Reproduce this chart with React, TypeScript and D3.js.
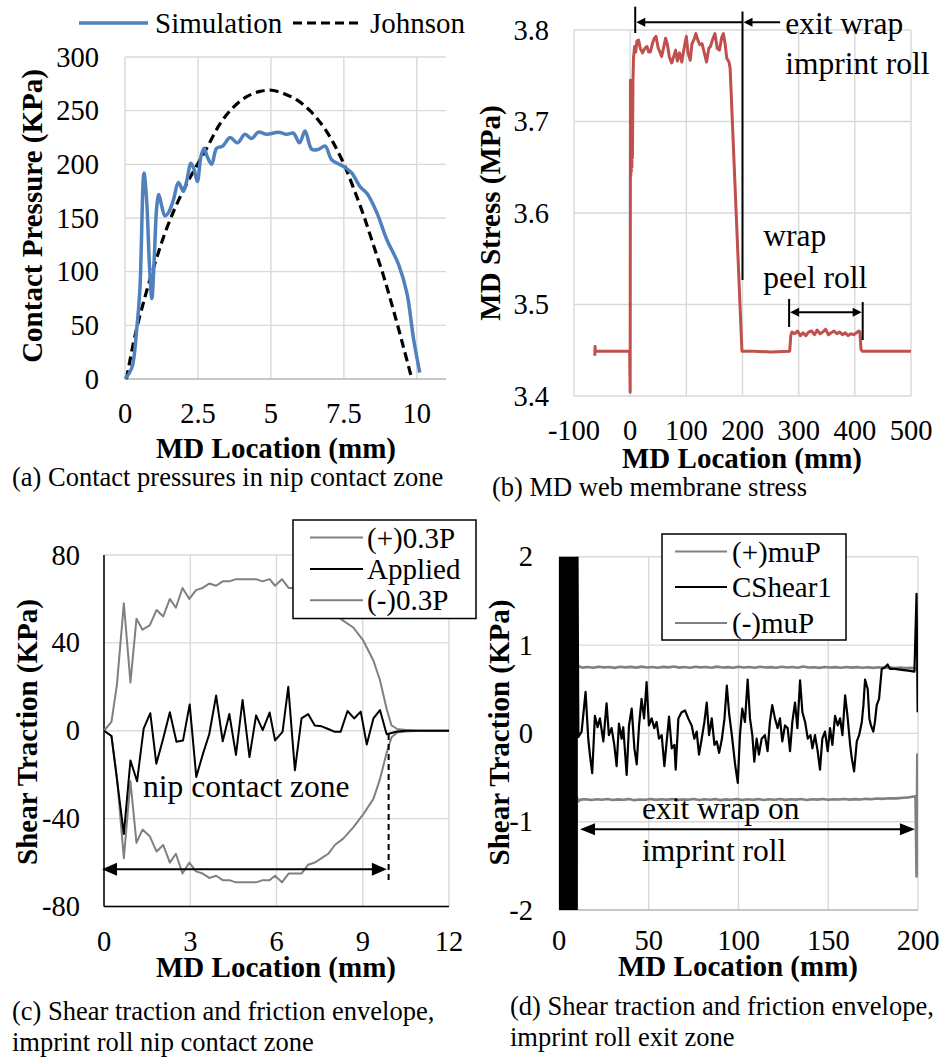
import React from 'react';
import * as d3 from 'd3';

const FONT = '"Liberation Serif","Times New Roman",Times,serif';

// ---------------- (a) Contact pressure ----------------
const aSimX = [0, 0.23, 0.4, 0.51, 0.65, 0.74, 0.84, 0.92, 1.0, 1.09, 1.16, 1.26, 1.37, 1.49, 1.66, 1.83, 2.0, 2.11, 2.26, 2.37, 2.48, 2.6, 2.71, 2.82, 2.97, 3.14, 3.35, 3.6, 3.85, 4.11, 4.34, 4.57, 4.86, 5.26, 5.54, 5.77, 5.98, 6.17, 6.4, 6.63, 6.86, 7.09, 7.49, 7.77, 8.06, 8.29, 8.63, 8.97, 9.37, 9.66, 9.89, 10.1];
const aSimP = [0, 10, 46, 83, 192, 167, 105, 75, 111, 161, 172, 161, 152, 155, 167, 183, 175, 184, 201, 195, 184, 207, 215, 207, 200, 215, 217, 225, 220, 228, 224, 230, 228, 230, 228, 229, 220, 231, 214, 214, 217, 204, 198, 192, 179, 173, 155, 130, 107, 80, 37, 6];
const aJohnX = [0.05, 0.34, 0.69, 1.03, 1.37, 1.71, 2.06, 2.4, 2.8, 3.26, 3.71, 4.17, 4.63, 5.03, 5.43, 5.89, 6.34, 6.8, 7.14, 7.49, 7.83, 8.17, 8.51, 8.86, 9.2, 9.54, 9.83];
const aJohnP = [0, 40, 77, 108, 136, 159, 179, 196, 215, 238, 253, 263, 268, 269, 266, 260, 250, 235, 220, 201, 178, 153, 125, 96, 64, 30, 0];
const aTicksX = [0, 2.5, 5, 7.5, 10];
const aTicksY = [0, 50, 100, 150, 200, 250, 300];

// ---------------- (b) MD stress ----------------
const bStress: [number, number][] = [
  [-63, 3.444], [-62.5, 3.454], [-62, 3.449], [-30, 3.449], [-2, 3.449], [-1, 3.449],
  [0, 3.404], [0.5, 3.745], [1, 3.64], [1.5, 3.74], [2, 3.645], [2.5, 3.735], [3, 3.65], [3.5, 3.74], [4, 3.66], [5, 3.745], [6, 3.77],
  [8, 3.782], [10, 3.776], [12, 3.788], [15, 3.789], [18, 3.78], [22, 3.775], [26, 3.78], [30, 3.782], [33, 3.776], [36, 3.776],
  [40, 3.786], [43, 3.791], [46, 3.793], [50, 3.78], [53, 3.776], [56, 3.771], [60, 3.782], [63, 3.791], [66, 3.785], [70, 3.77],
  [74, 3.764], [78, 3.772], [81, 3.778], [84, 3.766], [88, 3.775], [92, 3.765], [96, 3.78], [100, 3.793], [103, 3.775], [107, 3.767],
  [110, 3.785], [114, 3.79], [117, 3.796], [121, 3.788], [124, 3.784], [128, 3.785], [132, 3.775], [136, 3.765], [140, 3.78],
  [143, 3.782], [147, 3.79], [151, 3.796], [155, 3.78], [159, 3.778], [163, 3.792], [166, 3.796], [169, 3.785], [172, 3.769],
  [176, 3.765], [178, 3.758], [199, 3.449], [220, 3.449], [250, 3.448], [284, 3.449],
  [286, 3.466], [288, 3.47], [293, 3.468], [298, 3.471], [303, 3.466], [308, 3.469], [313, 3.466], [318, 3.47], [323, 3.471],
  [328, 3.467], [333, 3.472], [338, 3.468], [343, 3.47], [348, 3.473], [353, 3.467], [358, 3.469], [363, 3.471], [368, 3.468],
  [373, 3.47], [378, 3.467], [383, 3.469], [388, 3.466], [393, 3.468], [398, 3.467], [403, 3.469], [407, 3.471], [409, 3.47],
  [411, 3.451], [413, 3.449], [450, 3.449], [500, 3.449],
];
const bTicksX = [-100, 0, 100, 200, 300, 400, 500];
const bTicksY = [3.4, 3.5, 3.6, 3.7, 3.8];

// ---------------- (c) Shear traction, nip zone ----------------
const cEnvX = [0, 0.26, 0.45, 0.69, 0.92, 1.13, 1.34, 1.59, 1.83, 2.06, 2.29, 2.5, 2.73, 2.97, 3.2, 3.43, 3.66, 3.9, 4.13, 4.36, 4.59, 4.82, 5.06, 5.29, 5.52, 5.76, 5.95, 6.19, 6.42, 6.65, 6.87, 7.1, 7.33, 7.57, 7.8, 8.03, 8.33, 8.67, 9.02, 9.37, 9.6, 9.83, 10, 10.2, 10.5, 11, 12];
const cPlus = [0, 4, 21, 58, 22, 51, 46, 48, 55, 52, 60, 56, 65, 60, 64, 65, 67, 66, 68, 68, 69, 69, 69, 69, 68, 69, 66, 69, 65, 65, 65, 61, 60, 58, 56, 53, 50, 47, 41, 32, 23, 10, 2.4, 0.8, 0.3, 0, 0];
const cMinus = [0, -2.4, -21, -58, -23, -51, -45, -48, -55, -52, -60, -56, -65, -60, -64, -65, -67, -66, -68, -68, -69, -69, -69, -69, -68, -68, -66, -69, -65, -65, -65, -61, -60, -58, -56, -52, -49, -44, -38, -31, -22, -10, -3, -0.8, -0.3, 0, 0];
const cAppX = [0, 0.26, 0.69, 0.92, 1.15, 1.38, 1.61, 1.82, 2.05, 2.29, 2.52, 2.75, 2.98, 3.21, 3.43, 3.66, 3.9, 4.13, 4.36, 4.59, 4.82, 5.06, 5.29, 5.52, 5.76, 5.95, 6.21, 6.41, 6.64, 6.87, 7.1, 7.33, 7.57, 7.8, 8.03, 8.23, 8.47, 8.7, 8.93, 9.14, 9.37, 9.6, 9.83, 10, 10.2, 10.5, 11, 12];
const cApplied = [0, -2.4, -47, -13.5, -23, 1, 8, -15, -4, 8.4, -5, -4.4, 12, -21, -11, -1.6, 16, -4.8, 7.6, -11, 14, -12, 7, 0.3, 8.3, -4.4, -0.5, 20, -18, 5.6, 7.6, 2.4, 2, 0.8, -0.5, -0.5, 9, 5.6, 8.7, -6.3, 5.6, 9.4, -1.6, -1, -0.3, 0, 0, 0];
const cTicksX = [0, 3, 6, 9, 12];
const cTicksY = [-80, -40, 0, 40, 80];

// ---------------- (d) Shear traction, exit zone ----------------
const dNipShear: [number, number][] = [
  [0, 0], [0.25, -5], [0.5, 30], [0.75, -47], [1, 18], [1.25, -23], [1.5, 12], [1.75, -15], [2, 9], [2.25, -6], [2.5, 12],
  [2.75, -21], [3, 14], [3.25, -11], [3.5, 16], [3.75, -5], [4, 8], [4.25, -11], [4.5, 14], [4.75, -12], [5, 7], [5.25, -4],
  [5.5, 8], [5.75, -5], [6, 20], [6.25, -18], [6.5, 6], [6.75, -8], [7, 7], [7.25, -3], [7.5, 5], [7.75, -4], [8, 9], [8.25, -6],
  [8.5, 9], [8.75, -6], [9, 9], [9.25, -3], [9.5, 5], [9.75, -4], [10, 3],
];
const dShear: [number, number][] = [
  [10.8, -0.04], [12.6, 0.02], [14.8, 0.47], [16.3, -0.06], [17.2, -0.24], [18.5, -0.45], [20, 0.2], [21.5, 0.07], [22.8, 0.17],
  [24.7, -0.09], [26.5, 0.34], [27.8, -0.02], [29.3, 0.06], [30.8, -0.13], [32.1, -0.37], [33.4, 0.11], [34.9, -0.06], [35.8, 0.07],
  [37.7, -0.47], [39, 0.09], [40.5, 0.28], [42, -0.17], [43.3, -0.35], [44.6, 0.09], [46, 0.39], [47.4, 0.17], [48.8, 0.58],
  [50.1, 0.09], [51.6, 0.17], [53.1, 0.06], [54.4, 0.13], [55.7, -0.06], [57.2, -0.02], [58.7, -0.37], [60, -0.09], [61.3, 0.19],
  [62.8, -0.17], [64.3, -0.13], [65, -0.41], [66.5, 0.17], [68.3, 0.24], [70.2, 0.26], [72, 0.17], [73.9, 0.09], [75.4, -0.06],
  [76.7, 0.02], [78, -0.24], [79.5, -0.06], [81, 0.13], [82.3, 0.35], [83.6, -0.02], [85.1, 0.17], [86.6, -0.13], [87.9, -0.09],
  [89.2, -0.22], [90.7, -0.07], [92.2, 0.17], [93.5, 0.54], [94.8, 0.22], [96.3, -0.02], [98.1, -0.35], [99.6, -0.56],
  [100.8, -0.02], [102.1, 0.28], [103.6, 0.13], [105.1, 0.61], [106.4, 0.17], [107.7, -0.02], [108.8, -0.32], [110.1, -0.06],
  [111.4, -0.24], [112.9, -0.06], [114.7, -0.02], [116.2, -0.2], [117.5, 0.13], [118.8, 0.32], [120.3, 0.17], [121.8, 0.06],
  [123.1, 0.17], [124.4, -0.09], [125.9, 0.09], [127.4, 0.06], [128.7, -0.2], [130, 0.13], [131.5, 0.35], [132.8, 0.06],
  [134.3, 0.6], [135.6, 0.24], [137.1, 0.13], [138.6, -0.06], [140.1, -0.02], [141.2, -0.17], [142.6, -0.02], [144.1, -0.2],
  [145.4, -0.41], [146.7, -0.06], [148.2, 0.02], [149.7, -0.2], [151, 0.06], [152.3, -0.13], [153.8, 0.2], [155.3, 0.09],
  [156.6, 0.17], [157.9, -0.02], [159.4, 0.43], [160.7, 0.2], [162.2, -0.13], [163.1, -0.28], [164.4, -0.43], [165.9, -0.09],
  [167.2, -0.02], [168.7, 0.13], [169.6, 0.32], [170.5, 0.61], [172, 0.5], [172.9, 0.17], [173.8, 0.09], [175.1, 0.02],
  [176, 0.13], [177, 0.32], [178.3, 0.39], [179.8, 0.73], [181.6, 0.75], [183.1, 0.78], [184.4, 0.73], [187.2, 0.73],
  [190.9, 0.72], [194.6, 0.71], [198, 0.7], [199.2, 1.58], [199.8, 0.24],
];
const dPlusMu: [number, number][] = [
  [9.6, 30], [10.1, 0.78], [11, 0.76], [13, 0.745], [16, 0.752], [19, 0.744], [22, 0.755], [25, 0.748], [28, 0.752], [31, 0.742],
  [34, 0.755], [37, 0.748], [40, 0.753], [43, 0.745], [46, 0.756], [49, 0.747], [52, 0.752], [55, 0.744], [58, 0.753], [61, 0.748],
  [64, 0.757], [67, 0.745], [70, 0.752], [73, 0.743], [76, 0.754], [79, 0.748], [82, 0.752], [85, 0.744], [88, 0.756], [91, 0.747],
  [94, 0.751], [97, 0.743], [100, 0.754], [103, 0.747], [106, 0.752], [109, 0.744], [112, 0.755], [115, 0.747], [118, 0.751],
  [121, 0.743], [124, 0.754], [127, 0.746], [130, 0.752], [133, 0.744], [136, 0.757], [139, 0.747], [142, 0.75], [145, 0.742],
  [148, 0.752], [151, 0.746], [154, 0.751], [157, 0.743], [160, 0.752], [163, 0.745], [166, 0.751], [169, 0.744], [172, 0.75],
  [175, 0.742], [178, 0.749], [181, 0.744], [184, 0.748], [187, 0.741], [190, 0.746], [193, 0.739], [196, 0.742], [199, 0.736],
  [200, 0.73],
];
const dMinusMu: [number, number][] = [
  [9.2, -30], [9.9, -0.72], [10.6, -0.77], [12, -0.75], [15, -0.745], [18, -0.754], [21, -0.746], [24, -0.752], [27, -0.743],
  [30, -0.755], [33, -0.747], [36, -0.752], [39, -0.744], [42, -0.756], [45, -0.748], [48, -0.751], [51, -0.743], [54, -0.753],
  [57, -0.746], [60, -0.752], [63, -0.744], [66, -0.755], [69, -0.747], [72, -0.751], [75, -0.742], [78, -0.754], [81, -0.746],
  [84, -0.752], [87, -0.744], [90, -0.756], [93, -0.747], [96, -0.751], [99, -0.743], [102, -0.754], [105, -0.746], [108, -0.752],
  [111, -0.744], [114, -0.755], [117, -0.746], [120, -0.751], [123, -0.743], [126, -0.753], [129, -0.746], [132, -0.75],
  [135, -0.743], [138, -0.754], [141, -0.746], [144, -0.75], [147, -0.742], [150, -0.752], [153, -0.745], [156, -0.749],
  [159, -0.742], [162, -0.75], [165, -0.744], [168, -0.748], [171, -0.741], [174, -0.746], [177, -0.738], [180, -0.742],
  [184, -0.735], [188, -0.736], [192, -0.728], [195, -0.724], [198.6, -0.712], [199.2, -1.62], [199.6, -0.24], [200, -0.6],
];
const dTicksX = [0, 50, 100, 150, 200];
const dTicksY = [-2, -1, 0, 1, 2];

const TICK = 28.5;
const TITLE = 29;
const ANNOT = 31.5;
const CAPT = 26.5;
const GRID = '#d9d9d9';

type S = d3.ScaleLinear<number, number>;
type P = [number, number];

const zip = (xs: number[], ys: number[]): P[] => xs.map((x, i) => [x, ys[i]] as P);

function pathOf(sx: S, sy: S, pts: P[], curve: d3.CurveFactory = d3.curveLinear) {
  return d3.line<P>().x(d => sx(d[0])).y(d => sy(d[1])).curve(curve)(pts) || '';
}

function Grid({ sx, sy, xt, yt }: { sx: S; sy: S; xt: number[]; yt: number[] }) {
  const [x0, x1] = sx.range();
  const [y0, y1] = sy.range();
  return (
    <g>
      {xt.map(t => <line key={'gx' + t} x1={sx(t)} x2={sx(t)} y1={y0} y2={y1} stroke={GRID} strokeWidth={1.4} />)}
      {yt.map(t => <line key={'gy' + t} x1={x0} x2={x1} y1={sy(t)} y2={sy(t)} stroke={GRID} strokeWidth={1.4} />)}
    </g>
  );
}

function XLabels({ sx, ticks, y, fmt }: { sx: S; ticks: number[]; y: number; fmt?: (v: number) => string }) {
  return (
    <g>
      {ticks.map(t => (
        <text key={t} x={sx(t)} y={y} textAnchor="middle" dominantBaseline="central" fontSize={TICK} fontFamily={FONT}>
          {fmt ? fmt(t) : String(t)}
        </text>
      ))}
    </g>
  );
}

function YLabels({ sy, ticks, x, fmt }: { sy: S; ticks: number[]; x: number; fmt?: (v: number) => string }) {
  return (
    <g>
      {ticks.map(t => (
        <text key={t} x={x} y={sy(t)} textAnchor="end" dominantBaseline="central" fontSize={TICK} fontFamily={FONT}>
          {fmt ? fmt(t) : String(t)}
        </text>
      ))}
    </g>
  );
}

function XTitle({ x, y, text }: { x: number; y: number; text: string }) {
  return (
    <text x={x} y={y} textAnchor="middle" dominantBaseline="central" fontSize={TITLE} fontWeight="bold" fontFamily={FONT}>
      {text}
    </text>
  );
}

function YTitle({ x, y, text }: { x: number; y: number; text: string }) {
  return (
    <text transform={`translate(${x},${y}) rotate(-90)`} textAnchor="middle" dominantBaseline="central" fontSize={TITLE} fontWeight="bold" fontFamily={FONT}>
      {text}
    </text>
  );
}

function Txt({ x, y, text, size, anchor = 'start' }: { x: number; y: number; text: string; size: number; anchor?: string }) {
  return (
    <text x={x} y={y} textAnchor={anchor as any} dominantBaseline="central" fontSize={size} fontFamily={FONT}>
      {text}
    </text>
  );
}

// horizontal arrowhead: tip at (x,y), pointing in direction dir (-1 left, +1 right)
function headPath(x: number, y: number, dir: number, len: number, half: number) {
  const bx = x - dir * len;
  return `M${x},${y}L${bx},${y - half}L${bx},${y + half}Z`;
}

export default function App() {
  // scales
  const ax = d3.scaleLinear().domain([0, 11]).range([125, 446]);
  const ay = d3.scaleLinear().domain([0, 300]).range([379, 57]);
  const bx = d3.scaleLinear().domain([-100, 500]).range([574, 911]);
  const by = d3.scaleLinear().domain([3.4, 3.8]).range([396, 30]);
  const cx = d3.scaleLinear().domain([0, 12]).range([104, 449]);
  const cy = d3.scaleLinear().domain([-80, 80]).range([906.5, 555]);
  const dx = d3.scaleLinear().domain([0, 200]).range([559, 918]);
  const dy = d3.scaleLinear().domain([-2, 2]).range([910, 556.8]);

  const smooth = d3.curveCatmullRom.alpha(0.5);

  const simPath = pathOf(ax, ay, zip(aSimX, aSimP), smooth);
  const johnPath = pathOf(ax, ay, zip(aJohnX, aJohnP), smooth);
  const bPath = pathOf(bx, by, bStress);
  const cPlusPath = pathOf(cx, cy, zip(cEnvX, cPlus));
  const cMinusPath = pathOf(cx, cy, zip(cEnvX, cMinus));
  const cAppPath = pathOf(cx, cy, zip(cAppX, cApplied));
  const dShearPath = pathOf(dx, dy, dNipShear.concat(dShear));
  const dPlusPath = pathOf(dx, dy, dPlusMu);
  const dMinusPath = pathOf(dx, dy, dMinusMu);

  const f1 = d3.format('.1f');

  // annotation anchors (data coordinates)
  const bArrowY = by(3.8085);
  const cArrowY = cy(-63);
  const dArrowY = dy(-1.086);

  return (
    <svg width={943} height={1059} style={{ position: 'absolute', left: 0, top: 0, background: '#fff' }} fontFamily={FONT}>
      <defs>
        <clipPath id="clipD">
          <rect x={dx(0)} y={dy(2)} width={dx(200) - dx(0)} height={dy(-2) - dy(2)} />
        </clipPath>
      </defs>
      <rect x={0} y={0} width={943} height={1059} fill="#fff" />

      {/* ================= (a) ================= */}
      <Grid sx={ax} sy={ay} xt={aTicksX} yt={aTicksY} />
      <line x1={ax(0)} x2={ax(11)} y1={ay(0)} y2={ay(0)} stroke="#bfbfbf" strokeWidth={1.4} />
      <path d={johnPath} fill="none" stroke="#000" strokeWidth={3.2} strokeDasharray="9,5" />
      <path d={simPath} fill="none" stroke="#4f81bd" strokeWidth={3.5} strokeLinejoin="round" />
      <YLabels sy={ay} ticks={aTicksY} x={99} />
      <XLabels sx={ax} ticks={aTicksX} y={413} />
      <XTitle x={276} y={448} text="MD Location (mm)" />
      <YTitle x={32} y={216} text="Contact Pressure (KPa)" />
      {/* legend */}
      <line x1={79} x2={148} y1={23} y2={23} stroke="#4f81bd" strokeWidth={3.5} />
      <Txt x={155} y={23} text="Simulation" size={TITLE} />
      <line x1={293} x2={362} y1={23} y2={23} stroke="#000" strokeWidth={3.2} strokeDasharray="9,5" />
      <Txt x={370} y={23} text="Johnson" size={TITLE} />
      <Txt x={12} y={477} text="(a) Contact pressures in nip contact zone" size={CAPT} />

      {/* ================= (b) ================= */}
      <Grid sx={bx} sy={by} xt={bTicksX} yt={bTicksY} />
      <path d={bPath} fill="none" stroke="#c0504d" strokeWidth={3} strokeLinejoin="round" />
      <YLabels sy={by} ticks={bTicksY} x={549} fmt={f1} />
      <XLabels sx={bx} ticks={bTicksX} y={430} />
      <XTitle x={742} y={458} text="MD Location (mm)" />
      <YTitle x={490} y={213} text="MD Stress (MPa)" />
      {/* exit wrap annotation */}
      <line x1={bx(9)} x2={bx(9)} y1={by(3.8255)} y2={by(3.7967)} stroke="#000" strokeWidth={2} />
      <line x1={bx(200)} x2={bx(200)} y1={by(3.8203)} y2={by(3.5268)} stroke="#000" strokeWidth={2} />
      <line x1={bx(9) + 6} x2={bx(200)} y1={bArrowY} y2={bArrowY} stroke="#000" strokeWidth={2} />
      <path d={headPath(bx(9) + 1, bArrowY, -1, 9, 4.5)} fill="#000" />
      <line x1={bx(200) + 6} x2={bx(267)} y1={bArrowY} y2={bArrowY} stroke="#000" strokeWidth={2} />
      <path d={headPath(bx(200) + 1, bArrowY, -1, 9, 4.5)} fill="#000" />
      <Txt x={bx(276)} y={23} text="exit wrap" size={ANNOT} />
      <Txt x={bx(276)} y={63} text="imprint roll" size={ANNOT} />
      {/* peel roll annotation */}
      <Txt x={bx(237)} y={235} text="wrap" size={ANNOT} />
      <Txt x={bx(237)} y={277} text="peel roll" size={ANNOT} />
      <line x1={bx(283)} x2={bx(283)} y1={by(3.506)} y2={by(3.4754)} stroke="#000" strokeWidth={2} />
      <line x1={bx(414)} x2={bx(414)} y1={by(3.5027)} y2={by(3.4612)} stroke="#000" strokeWidth={2} />
      <line x1={bx(283) + 6} x2={bx(414) - 6} y1={by(3.4915)} y2={by(3.4915)} stroke="#000" strokeWidth={2} />
      <path d={headPath(bx(283) + 1, by(3.4915), -1, 9, 4.5)} fill="#000" />
      <path d={headPath(bx(414) - 1, by(3.4915), 1, 9, 4.5)} fill="#000" />
      <Txt x={492} y={487} text="(b) MD web membrane stress" size={CAPT} />

      {/* ================= (c) ================= */}
      <Grid sx={cx} sy={cy} xt={cTicksX} yt={cTicksY} />
      <line x1={cx(0)} x2={cx(0)} y1={cy(-80)} y2={cy(80)} stroke="#000" strokeWidth={1.5} />
      <line x1={cx(0)} x2={cx(12)} y1={cy(-80)} y2={cy(-80)} stroke="#000" strokeWidth={1.5} />
      <path d={cPlusPath} fill="none" stroke="#808080" strokeWidth={2} strokeLinejoin="round" />
      <path d={cMinusPath} fill="none" stroke="#808080" strokeWidth={2} strokeLinejoin="round" />
      <path d={cAppPath} fill="none" stroke="#000" strokeWidth={2} strokeLinejoin="round" />
      <line x1={cx(9.9)} x2={cx(9.9)} y1={cy(-1.5)} y2={cy(-69)} stroke="#000" strokeWidth={2} strokeDasharray="6,4" />
      <line x1={cx(-0.07) + 10} x2={cx(9.84) - 10} y1={cArrowY} y2={cArrowY} stroke="#000" strokeWidth={2} />
      <path d={headPath(cx(-0.07), cArrowY, -1, 15, 6.5)} fill="#000" />
      <path d={headPath(cx(9.84), cArrowY, 1, 15, 6.5)} fill="#000" />
      <Txt x={cx(1.36)} y={cy(-25.3)} text="nip contact zone" size={ANNOT} />
      <YLabels sy={cy} ticks={cTicksY} x={80} />
      <XLabels sx={cx} ticks={cTicksX} y={941} />
      <XTitle x={276} y={967} text="MD Location (mm)" />
      <YTitle x={27} y={732} text="Shear Traction (KPa)" />
      {/* legend */}
      <rect x={293} y={520} width={183} height={98.5} fill="#fff" stroke="#000" strokeWidth={1.5} />
      <line x1={310} x2={363} y1={537.6} y2={537.6} stroke="#808080" strokeWidth={2} />
      <Txt x={367} y={537.6} text="(+)0.3P" size={TITLE} />
      <line x1={310} x2={363} y1={569} y2={569} stroke="#000" strokeWidth={2} />
      <Txt x={367} y={569} text="Applied" size={TITLE} />
      <line x1={310} x2={363} y1={600.3} y2={600.3} stroke="#808080" strokeWidth={2} />
      <Txt x={367} y={600.3} text="(-)0.3P" size={TITLE} />
      <Txt x={12} y={1011} text="(c) Shear traction and friction envelope," size={CAPT} />
      <Txt x={12} y={1042} text="imprint roll nip contact zone" size={CAPT} />

      {/* ================= (d) ================= */}
      <Grid sx={dx} sy={dy} xt={dTicksX} yt={dTicksY} />
      <line x1={dx(0)} x2={dx(200)} y1={dy(-2)} y2={dy(-2)} stroke="#bfbfbf" strokeWidth={1.4} />
      <g clipPath="url(#clipD)">
        <path d={dPlusPath} fill="none" stroke="#808080" strokeWidth={2.6} strokeLinejoin="round" />
        <path d={dMinusPath} fill="none" stroke="#808080" strokeWidth={2.6} strokeLinejoin="round" />
        <path d={dShearPath} fill="none" stroke="#000" strokeWidth={2.2} strokeLinejoin="round" />
      </g>
      <line x1={dx(11.7) + 10} x2={dx(198.3) - 10} y1={dArrowY} y2={dArrowY} stroke="#000" strokeWidth={2} />
      <path d={headPath(dx(11.7), dArrowY, -1, 15, 6)} fill="#000" />
      <path d={headPath(dx(198.3), dArrowY, 1, 15, 6)} fill="#000" />
      <Txt x={dx(46.2)} y={dy(-0.856)} text="exit wrap on" size={ANNOT} />
      <Txt x={dx(46.2)} y={dy(-1.33)} text="imprint roll" size={ANNOT} />
      <YLabels sy={dy} ticks={dTicksY} x={533} />
      <XLabels sx={dx} ticks={dTicksX} y={940} />
      <XTitle x={738} y={966} text="MD Location (mm)" />
      <YTitle x={499} y={732.5} text="Shear Traction (KPa)" />
      {/* legend */}
      <rect x={662} y={534} width={184} height={106} fill="#fff" stroke="#000" strokeWidth={1.5} />
      <line x1={675} x2={727} y1={551.5} y2={551.5} stroke="#808080" strokeWidth={2} />
      <Txt x={732} y={551.5} text="(+)muP" size={TITLE} />
      <line x1={675} x2={727} y1={587} y2={587} stroke="#000" strokeWidth={2} />
      <Txt x={732} y={587} text="CShear1" size={TITLE} />
      <line x1={675} x2={727} y1={623} y2={623} stroke="#808080" strokeWidth={2} />
      <Txt x={732} y={623} text="(-)muP" size={TITLE} />
      <Txt x={510} y={1006} text="(d) Shear traction and friction envelope," size={CAPT} />
      <Txt x={510} y={1037} text="imprint roll exit zone" size={CAPT} />
    </svg>
  );
}
